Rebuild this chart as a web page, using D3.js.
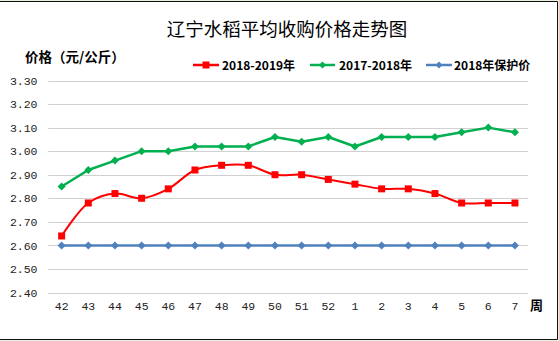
<!DOCTYPE html>
<html><head><meta charset="utf-8">
<script src="https://cdn.jsdelivr.net/npm/d3@7"></script>
<style>body{margin:0;background:#fff}svg{display:block}</style>
</head><body>
<svg id="c" width="559" height="341"></svg>
<script>
const weeks = ["42","43","44","45","46","47","48","49","50","51","52","1","2","3","4","5","6","7"];
const s2018_2019 = [2.64,2.78,2.82,2.80,2.84,2.92,2.94,2.94,2.90,2.90,2.88,2.86,2.84,2.84,2.82,2.78,2.78,2.78];
const s2017_2018 = [2.85,2.92,2.96,3.00,3.00,3.02,3.02,3.02,3.06,3.04,3.06,3.02,3.06,3.06,3.06,3.08,3.10,3.08];
const sProtect   = [2.60,2.60,2.60,2.60,2.60,2.60,2.60,2.60,2.60,2.60,2.60,2.60,2.60,2.60,2.60,2.60,2.60,2.60];
const seriesNames = ["2018-2019年","2017-2018年","2018年保护价"];
const yTicks = [2.40,2.50,2.60,2.70,2.80,2.90,3.00,3.10,3.20,3.30];
const titleText = "辽宁水稻平均收购价格走势图";
const yTitle = "价格（元/公斤）";
const xTitle = "周";

const svg = d3.select("#c");
svg.append("rect").attr("width",559).attr("height",341).attr("fill","#e6f2dc");
svg.append("rect").attr("x",0).attr("y",1).attr("width",558).attr("height",338).attr("fill","#fff");
svg.append("path").attr("d","M0,1.5H557.5V339.5H0").attr("fill","none").attr("stroke","#111").attr("stroke-width",1);

const x = d3.scaleBand().domain(weeks).range([48.3,528.3]).padding(0);
const cx = d => x(d) + x.bandwidth()/2;
const y = d3.scaleLinear().domain([2.4,3.3]).range([292.5,80.5]);

// gridlines
const grid = svg.append("g");
grid.selectAll("line").data(yTicks).join("line")
  .attr("x1",48.3).attr("x2",528.3)
  .attr("y1",d=>Math.round(y(d))+0.5).attr("y2",d=>Math.round(y(d))+0.5)
  .attr("stroke","#d0d0d0").attr("stroke-width",1);

// y axis labels
const yAxis = d3.axisLeft(y).tickValues(yTicks).tickFormat(d3.format(".2f")).tickSize(0).tickPadding(0);
const gy = svg.append("g").attr("transform","translate(37.5,0)").call(yAxis);
gy.select(".domain").remove();
gy.selectAll("text").attr("font-family","Liberation Mono, DejaVu Sans Mono, monospace").attr("font-size",11.5).attr("fill","#222");

// x axis labels
const xAxis = d3.axisBottom(x).tickSize(0).tickPadding(0);
const gx = svg.append("g").attr("transform","translate(0,302)").call(xAxis);
gx.select(".domain").remove();
gx.selectAll("text").attr("font-family","Liberation Mono, DejaVu Sans Mono, monospace").attr("font-size",11.5).attr("fill","#222");

// titles
svg.append("text").attr("x",287).attr("y",36).attr("text-anchor","middle")
  .attr("font-family","Noto Sans CJK SC").attr("font-size",18.5).attr("fill","#000").text(titleText);
svg.append("text").attr("x",25).attr("y",62).attr("font-family","Noto Sans CJK SC").attr("font-weight","bold")
  .attr("font-size",13.5).attr("fill","#000").text(yTitle);
svg.append("text").attr("x",530).attr("y",310).attr("font-family","Noto Sans CJK SC").attr("font-weight","bold")
  .attr("font-size",13).attr("fill","#000").text(xTitle);

const series = [
  {name:seriesNames[2], vals:sProtect, color:"#4f81bd", width:2.5, marker:"diamond", curve:d3.curveLinear},
  {name:seriesNames[1], vals:s2017_2018, color:"#00b050", width:2.5, marker:"diamond", curve:d3.curveLinear},
  {name:seriesNames[0], vals:s2018_2019, color:"#ff0000", width:2, marker:"square", curve:d3.curveCatmullRom}
];

const diamond = (s) => `M0,${-s}L${s},0L0,${s}L${-s},0Z`;
const square = (s) => `M${-s},${-s}H${s}V${s}H${-s}Z`;

series.forEach(sr => {
  const line = d3.line().x((d,i)=>cx(weeks[i])).y(d=>y(d)).curve(sr.curve);
  svg.append("path").datum(sr.vals).attr("d",line).attr("fill","none")
    .attr("stroke",sr.color).attr("stroke-width",sr.width).attr("stroke-linejoin","round");
  svg.append("g").selectAll("path").data(sr.vals).join("path")
    .attr("transform",(d,i)=>`translate(${cx(weeks[i])},${y(d)})`)
    .attr("d", sr.marker==="square" ? square(3.5) : diamond(4))
    .attr("fill",sr.color);
});

// legend
const legend = [
  {name:seriesNames[0], color:"#ff0000", marker:"square", x1:193, x2:219, tx:222},
  {name:seriesNames[1], color:"#00b050", marker:"diamond", x1:310, x2:335, tx:339},
  {name:seriesNames[2], color:"#4f81bd", marker:"diamond", x1:426, x2:452, tx:454}
];
const lg = svg.append("g");
legend.forEach(l => {
  lg.append("line").attr("x1",l.x1).attr("x2",l.x2).attr("y1",65).attr("y2",65)
    .attr("stroke",l.color).attr("stroke-width",2.5);
  lg.append("path").attr("transform",`translate(${(l.x1+l.x2)/2},65)`)
    .attr("d", l.marker==="square" ? square(3.5) : diamond(3.5)).attr("fill",l.color);
  lg.append("text").attr("x",l.tx).attr("y",69.5).attr("font-family","Noto Sans CJK SC").attr("font-weight","bold")
    .attr("font-size",12).attr("fill","#000").text(l.name);
});
</script>
</body></html>
